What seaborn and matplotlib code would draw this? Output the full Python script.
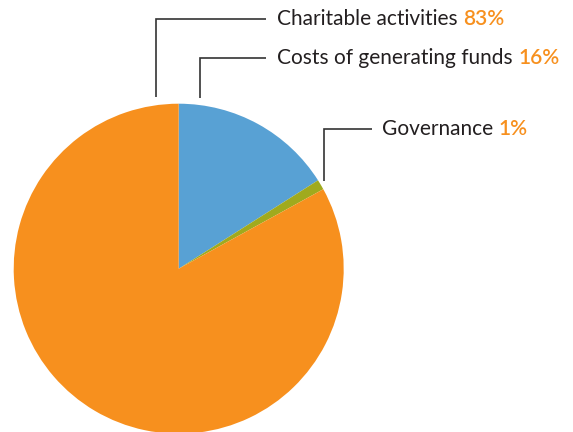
import matplotlib
matplotlib.use("Agg")
import matplotlib.pyplot as plt
import seaborn as sns

# data
categories = ['Costs of generating funds', 'Governance', 'Charitable activities']
shares = [16, 1, 83]
colours = ['#58A1D4', '#A0AA1E', '#F7901E']

sns.set_theme(style="white")
plt.rcParams['font.family'] = ['Lato', 'DejaVu Sans']

W, H = 573, 432
fig = plt.figure(figsize=(W / 100, H / 100), dpi=100)
ax = fig.add_axes([0, 0, 1, 1])

cx, cy, r = 178.7, H - 268.7, 165
ax.pie(shares, colors=colours, startangle=90, counterclock=False,
       center=(cx, cy), radius=r, frame=True,
       wedgeprops=dict(linewidth=0))
ax.set_xlim(0, W)
ax.set_ylim(0, H)
ax.set_aspect('equal')
ax.axis('off')

# leader lines (pixel coords from top) and label positions
leaders = {
    'Charitable activities': [(155.7, 97), (155.7, 18.7), (266, 18.7)],
    'Costs of generating funds': [(199.5, 98), (199.5, 58), (266, 58)],
    'Governance': [(323.7, 181), (323.7, 129), (372, 129)],
}
text_x = {'Charitable activities': 277, 'Costs of generating funds': 277, 'Governance': 382}

for name, pct in zip(categories, shares):
    pts = leaders[name]
    ax.plot([p[0] for p in pts], [H - p[1] for p in pts], color='#333333', lw=1.2,
            solid_capstyle='butt', solid_joinstyle='miter')
    ty = H - pts[-1][1]
    t = ax.text(text_x[name], ty, name + ' ', fontsize=15, color='#231F20',
                fontweight='normal', va='center')
    fig.canvas.draw()
    bb = t.get_window_extent().transformed(ax.transData.inverted())
    ax.text(bb.x1, ty, f'{pct}%', fontsize=15, color='#F7901E',
            fontweight='semibold', va='center')

plt.savefig('out.png', dpi=100)
